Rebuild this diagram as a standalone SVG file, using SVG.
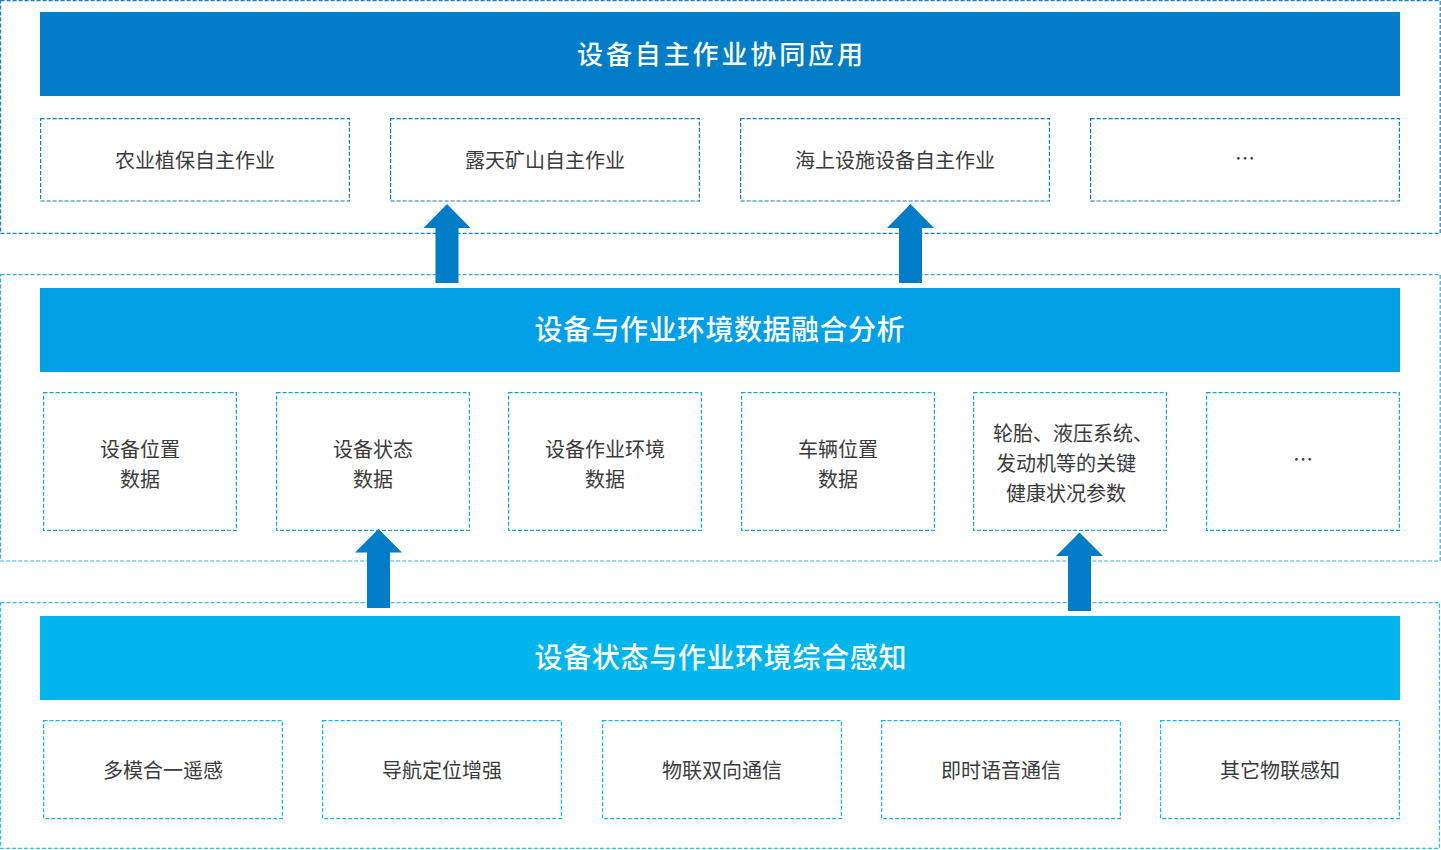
<svg xmlns="http://www.w3.org/2000/svg" width="1441" height="850" viewBox="0 0 1441 850">
<style>
.ttl{font-family:"Noto Sans CJK SC","Noto Sans",sans-serif;font-size:26px;font-weight:500;fill:#ffffff;text-anchor:middle}
.big{font-size:28px}
.lbl{font-family:"Noto Sans CJK SC","Noto Sans",sans-serif;font-size:20px;fill:#3a3a3a;text-anchor:middle}
.dash{fill:none;stroke-width:1.2;stroke-dasharray:4 2}
.o1{stroke:#1c80c8}.o2{stroke:#3aa9e8}.o3{stroke:#35bdee}
.b1{stroke:#0a7dc6}.b2{stroke:#14a2e6}.b3{stroke:#14b6ec}
.arrow{fill:#007dc6}
</style>
<rect width="1441" height="850" fill="#ffffff"/>
<g id="layer-top">
<rect class="dash o1" x="0.6" y="0.6" width="1439.6" height="232.8"/>
<rect x="40" y="12" width="1360" height="84" fill="#007dc6"/>
<text class="ttl" x="720" y="64" textLength="286" lengthAdjust="spacing">设备自主作业协同应用</text>
</g>
<g id="app-1"><rect class="dash b1" x="40.6" y="118.6" width="308.8" height="82.4"/><text class="lbl" x="195" y="168">农业植保自主作业</text></g>
<g id="app-2"><rect class="dash b1" x="390.6" y="118.6" width="308.8" height="82.4"/><text class="lbl" x="545" y="168">露天矿山自主作业</text></g>
<g id="app-3"><rect class="dash b1" x="740.6" y="118.6" width="308.8" height="82.4"/><text class="lbl" x="895" y="168">海上设施设备自主作业</text></g>
<g id="app-4"><rect class="dash b1" x="1090.6" y="118.6" width="308.8" height="82.4"/><text class="lbl" x="1245" y="166">…</text></g>
<g id="layer-middle">
<rect class="dash o2" x="0.6" y="274.6" width="1439.6" height="286.4"/>
<rect x="40" y="288" width="1360" height="84" fill="#009fe6"/>
<text class="ttl big" x="719.5" y="340.3" textLength="370" lengthAdjust="spacing">设备与作业环境数据融合分析</text>
</g>
<g id="data-1"><rect class="dash b2" x="43.6" y="392.6" width="192.8" height="137.8"/><text class="lbl" x="140" y="456.5">设备位置</text><text class="lbl" x="140" y="486.5">数据</text></g>
<g id="data-2"><rect class="dash b2" x="276.6" y="392.6" width="192.8" height="137.8"/><text class="lbl" x="373" y="456.5">设备状态</text><text class="lbl" x="373" y="486.5">数据</text></g>
<g id="data-3"><rect class="dash b2" x="508.6" y="392.6" width="192.8" height="137.8"/><text class="lbl" x="605" y="456.5">设备作业环境</text><text class="lbl" x="605" y="486.5">数据</text></g>
<g id="data-4"><rect class="dash b2" x="741.6" y="392.6" width="192.8" height="137.8"/><text class="lbl" x="838" y="456.5">车辆位置</text><text class="lbl" x="838" y="486.5">数据</text></g>
<g id="data-5"><rect class="dash b2" x="973.6" y="392.6" width="192.8" height="137.8"/><text class="lbl" x="1073" y="440.5">轮胎、液压系统、</text><text class="lbl" x="1066" y="470.5">发动机等的关键</text><text class="lbl" x="1066" y="500.5">健康状况参数</text></g>
<g id="data-6"><rect class="dash b2" x="1206.6" y="392.6" width="192.8" height="137.8"/><text class="lbl" x="1303" y="467">…</text></g>
<g id="layer-bottom">
<rect class="dash o3" x="0.6" y="602.6" width="1438.8" height="245.8"/>
<rect x="40" y="616" width="1360" height="84" fill="#00b5ec"/>
<text class="ttl big" x="720.5" y="668.3" textLength="372" lengthAdjust="spacing">设备状态与作业环境综合感知</text>
</g>
<g id="sense-1"><rect class="dash b3" x="43.6" y="720.6" width="238.8" height="98"/><text class="lbl" x="163" y="778">多模合一遥感</text></g>
<g id="sense-2"><rect class="dash b3" x="322.6" y="720.6" width="238.8" height="98"/><text class="lbl" x="442" y="778">导航定位增强</text></g>
<g id="sense-3"><rect class="dash b3" x="602.6" y="720.6" width="238.8" height="98"/><text class="lbl" x="722" y="778">物联双向通信</text></g>
<g id="sense-4"><rect class="dash b3" x="881.6" y="720.6" width="238.8" height="98"/><text class="lbl" x="1001" y="778">即时语音通信</text></g>
<g id="sense-5"><rect class="dash b3" x="1160.6" y="720.6" width="238.8" height="98"/><text class="lbl" x="1280" y="778">其它物联感知</text></g>
<g id="connectors">
<polygon class="arrow" points="447,204 470.5,228 458.5,228 458.5,283 435.5,283 435.5,228 423.5,228"/>
<polygon class="arrow" points="910.5,204 934,228 922,228 922,283 899,283 899,228 887,228"/>
<polygon class="arrow" points="378.5,529 402,552.5 390,552.5 390,608 367,608 367,552.5 355,552.5"/>
<polygon class="arrow" points="1079.5,532.5 1103,556 1091,556 1091,611 1068,611 1068,556 1056,556"/>
</g>
</svg>
